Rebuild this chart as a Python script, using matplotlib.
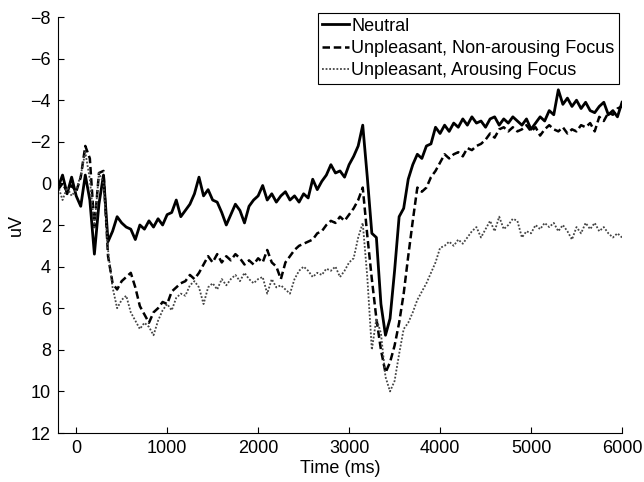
import numpy as np
import matplotlib.pyplot as plt

plt.rcParams['font.family'] = ['Liberation Sans', 'DejaVu Sans']

# Zeitachse: Abtastung alle 50 ms
time_ms = np.arange(-200, 6001, 50)

neutral = [
    0.2, -0.4, 0.5, -0.3, 0.6, 1.1, -0.4, 0.8, 3.4, 1.0,
    -0.4, 2.8, 2.3, 1.6, 1.9, 2.1, 2.2, 2.7, 2.0, 2.2,
    1.8, 2.1, 1.7, 2.0, 1.5, 1.4, 0.8, 1.6, 1.3, 1.0,
    0.5, -0.3, 0.6, 0.3, 0.8, 0.9, 1.4, 2.0, 1.5, 1.0,
    1.3, 1.9, 1.1, 0.8, 0.6, 0.1, 0.8, 0.5, 0.9, 0.6,
    0.4, 0.8, 0.6, 0.9, 0.5, 0.7, -0.2, 0.3, -0.1, -0.4,
    -0.9, -0.5, -0.6, -0.3, -0.9, -1.3, -1.8, -2.8, -0.3, 2.4,
    2.6, 5.8, 7.3, 6.5, 4.2, 1.6, 1.2, -0.2, -0.9, -1.4,
    -1.2, -1.8, -1.9, -2.7, -2.4, -2.8, -2.5, -2.9, -2.7, -3.1,
    -2.8, -3.2, -2.9, -3.0, -2.7, -3.1, -3.2, -2.8, -3.1, -2.9,
    -3.2, -3.0, -2.8, -3.1, -2.6, -2.9, -3.2, -3.0, -3.5, -3.3,
    -4.5, -3.8, -4.1, -3.7, -4.0, -3.6, -3.9, -3.5, -3.4, -3.7,
    -3.9, -3.3, -3.5, -3.2, -3.9,
]

unpl_nonarousing = [
    0.3, 0.0, 0.4, 0.1, 0.4, -0.3, -1.8, -1.2, 2.1, -0.5,
    -0.6, 3.5, 4.8, 5.1, 4.7, 4.5, 4.3, 5.0, 5.9, 6.3,
    6.7, 6.2, 6.0, 5.7, 5.8, 5.2, 5.0, 4.8, 4.7, 4.4,
    4.6, 4.3, 3.9, 3.5, 3.8, 3.4, 3.8, 3.5, 3.7, 3.4,
    3.6, 3.9, 3.7, 3.9, 3.6, 3.8, 3.2, 3.8, 4.0, 4.6,
    3.8, 3.5, 3.2, 3.0, 2.9, 2.8, 2.7, 2.4, 2.3, 2.0,
    1.8, 1.9, 1.6, 1.8, 1.5, 1.2, 0.8, 0.2, 2.5, 4.6,
    6.5, 8.0, 9.1, 8.6, 7.8, 6.7, 5.3, 3.5, 1.8, 0.2,
    0.4, 0.2, -0.3, -0.6, -1.0, -1.4, -1.2, -1.4, -1.5, -1.3,
    -1.7, -1.6, -1.8, -1.9, -2.1, -2.4, -2.2, -2.6, -2.7, -2.5,
    -2.7, -2.5, -2.6, -2.8, -2.5, -2.7, -2.3, -2.6, -2.8, -2.6,
    -2.5, -2.7, -2.4, -2.6, -2.5, -2.8, -2.7, -2.9, -2.5, -3.2,
    -3.0, -3.4, -3.3, -3.6, -3.7,
]

unpl_arousing = [
    0.1, 0.8, 0.2, 0.6, 0.3, -0.4, -1.5, -0.2, 2.1, -0.5,
    0.0, 3.2, 5.0, 6.0, 5.6, 5.4, 6.2, 6.6, 7.0, 6.7,
    6.9, 7.3, 6.6, 6.1, 5.8, 6.1, 5.5, 5.3, 5.4, 4.9,
    4.7, 5.0, 5.8, 5.0, 4.8, 5.1, 4.6, 4.9, 4.6, 4.4,
    4.7, 4.3, 4.6, 4.8, 4.6, 4.5, 5.3, 4.6, 5.0, 4.9,
    5.1, 5.3, 4.6, 4.2, 4.0, 4.2, 4.5, 4.3, 4.4, 4.1,
    4.2, 4.0, 4.5, 4.2, 3.8, 3.6, 2.6, 1.9, 4.5, 8.0,
    6.5, 7.2, 9.3, 10.0, 9.5, 8.2, 7.0, 6.7, 6.2, 5.6,
    5.2, 4.8, 4.3, 3.8, 3.1, 3.0, 2.8, 3.0, 2.7, 2.9,
    2.6, 2.3, 2.1, 2.6, 2.2, 1.8, 2.3, 1.6, 2.2, 2.0,
    1.7, 1.8, 2.6, 2.3, 2.4, 2.0, 2.2, 1.9, 2.1, 1.9,
    2.3, 2.0, 2.3, 2.7, 2.1, 2.4, 1.9, 2.2, 1.9, 2.3,
    2.1, 2.4, 2.6, 2.4, 2.6,
]

labels = ['Neutral', 'Unpleasant, Non-arousing Focus', 'Unpleasant, Arousing Focus']
FS = 13

fig = plt.figure(figsize=(6.44, 4.82), dpi=100)
ax = fig.add_axes([58/644, 1 - 433/482, 564/644, 416/482])

ax.plot(time_ms, neutral, color='black', lw=2.0, ls='-', label=labels[0])
ax.plot(time_ms, unpl_nonarousing, color='black', lw=1.8, ls=(0, (3, 1.5)), label=labels[1])
ax.plot(time_ms, unpl_arousing, color='#444444', lw=1.3, ls=(0, (1, 1)), label=labels[2])

ax.set_xlim(-200, 6000)
ax.set_ylim(12, -8)  # negativ nach oben, wie bei ERPs ueblich
ax.set_xticks([0, 1000, 2000, 3000, 4000, 5000, 6000])
ax.set_yticks(np.arange(-8, 13, 2))
ax.set_yticklabels([f'{v}'.replace('-', '\u2212') for v in range(-8, 13, 2)])
ax.tick_params(direction='in', length=4, labelsize=FS, width=0.8, pad=5)
ax.spines['top'].set_visible(False)
ax.spines['right'].set_visible(False)
ax.set_xlabel('Time (ms)', fontsize=FS, labelpad=2)
ax.set_ylabel('uV', fontsize=FS, labelpad=4)

leg = ax.legend(loc='upper right', bbox_to_anchor=(619/644, 1 - 13/482),
                bbox_transform=fig.transFigure, borderaxespad=0, fontsize=FS,
                handlelength=1.5, handletextpad=0.1, labelspacing=0.3,
                borderpad=0.25, fancybox=False, framealpha=1)
leg.get_frame().set_edgecolor('black')
leg.get_frame().set_linewidth(0.8)

fig.savefig('out.png', dpi=100)
